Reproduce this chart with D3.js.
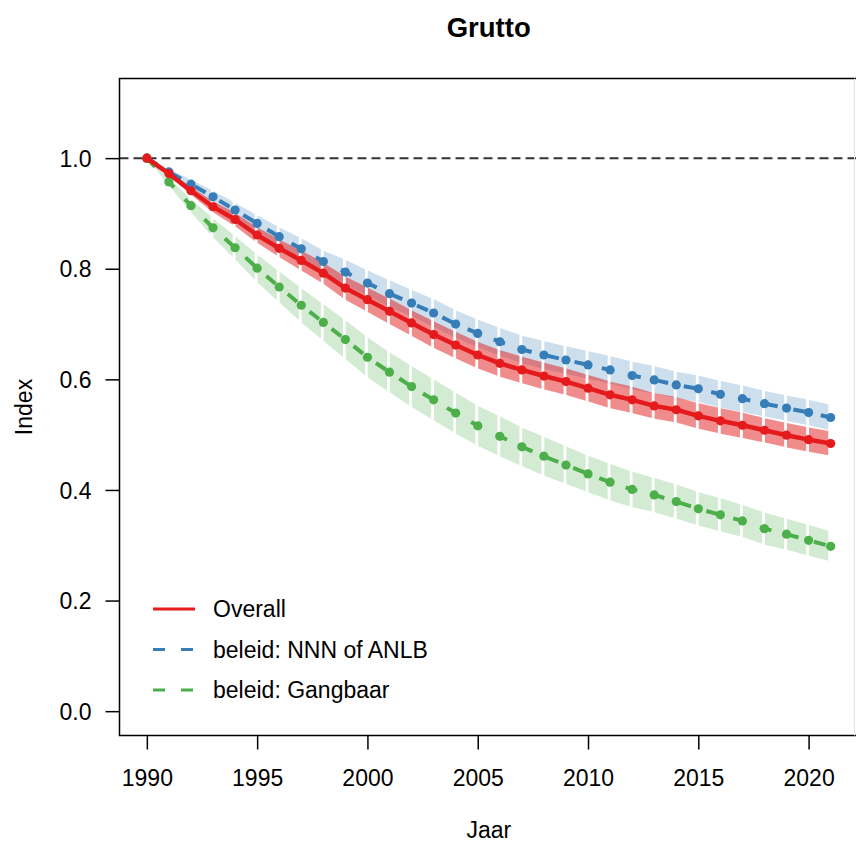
<!DOCTYPE html>
<html>
<head>
<meta charset="utf-8">
<script src="https://cdn.jsdelivr.net/npm/d3@7"></script>
<style>
  body { margin: 0; background: #fff; }
  svg { display: block; }
  text { font-family: "Liberation Sans", Arial, sans-serif; fill: #000; }
</style>
</head>
<body>
<svg id="chart" width="856" height="843"></svg>
<script>
// Yearly index of the black-tailed godwit (Grutto), 1990 = 1
const years = [1990, 1991, 1992, 1993, 1994, 1995, 1996, 1997, 1998, 1999,
               2000, 2001, 2002, 2003, 2004, 2005, 2006, 2007, 2008, 2009,
               2010, 2011, 2012, 2013, 2014, 2015, 2016, 2017, 2018, 2019,
               2020, 2021];

const overall = [1.000, 0.972, 0.941, 0.912, 0.889, 0.861, 0.837, 0.815, 0.792, 0.765,
                 0.744, 0.723, 0.702, 0.681, 0.662, 0.644, 0.629, 0.617, 0.606, 0.596,
                 0.584, 0.572, 0.563, 0.552, 0.545, 0.534, 0.525, 0.517, 0.508, 0.499,
                 0.491, 0.484];

const nnnAnlb = [1.000, 0.975, 0.953, 0.930, 0.906, 0.882, 0.858, 0.836, 0.813, 0.794,
                 0.774, 0.755, 0.738, 0.720, 0.700, 0.683, 0.668, 0.654, 0.644, 0.635,
                 0.626, 0.617, 0.607, 0.599, 0.590, 0.583, 0.573, 0.565, 0.556, 0.548,
                 0.540, 0.531];

const gangbaar = [1.000, 0.957, 0.914, 0.874, 0.838, 0.801, 0.767, 0.734, 0.703, 0.672,
                  0.640, 0.613, 0.587, 0.563, 0.539, 0.516, 0.497, 0.478, 0.461, 0.445,
                  0.429, 0.414, 0.401, 0.391, 0.379, 0.366, 0.355, 0.344, 0.330, 0.320,
                  0.309, 0.298];

// Half-width of the confidence band around each index value
const overallCI = [0.000, 0.004, 0.007, 0.010, 0.012, 0.014, 0.016, 0.018, 0.019, 0.021,
                   0.022, 0.023, 0.023, 0.024, 0.024, 0.024, 0.024, 0.024, 0.024, 0.024,
                   0.024, 0.024, 0.024, 0.023, 0.023, 0.023, 0.023, 0.023, 0.022, 0.022,
                   0.022, 0.022];

const nnnAnlbCI = [0.000, 0.005, 0.008, 0.011, 0.013, 0.015, 0.017, 0.019, 0.020, 0.022,
                   0.023, 0.024, 0.024, 0.025, 0.025, 0.025, 0.025, 0.025, 0.025, 0.025,
                   0.025, 0.025, 0.025, 0.025, 0.024, 0.024, 0.024, 0.024, 0.023, 0.023,
                   0.023, 0.023];

const gangbaarCI = [0.000, 0.006, 0.012, 0.017, 0.021, 0.025, 0.028, 0.031, 0.033, 0.035,
                    0.036, 0.036, 0.037, 0.037, 0.037, 0.036, 0.036, 0.035, 0.035, 0.034,
                    0.033, 0.033, 0.032, 0.031, 0.031, 0.030, 0.030, 0.029, 0.029, 0.028,
                    0.028, 0.027];

const xTicks = [1990, 1995, 2000, 2005, 2010, 2015, 2020];
const yTicks = [0.0, 0.2, 0.4, 0.6, 0.8, 1.0];

const series = [
  { label: "beleid: NNN of ANLB", values: nnnAnlb, ci: nnnAnlbCI, color: "#377EB8", band: 0.25, dash: "12,16" },
  { label: "beleid: Gangbaar",    values: gangbaar, ci: gangbaarCI, color: "#4DAF4A", band: 0.25, dash: "12,16" },
  { label: "Overall",             values: overall, ci: overallCI, color: "#E41A1C", band: 0.5,  dash: null }
];
const legendOrder = ["Overall", "beleid: NNN of ANLB", "beleid: Gangbaar"];

const svg = d3.select("#chart");
const box = { left: 119.5, top: 78.5, bottom: 735.5, right: 858 };

const x = d3.scaleLinear().domain([1988.76, 2022.24]).range([box.left, box.right]);
const y = d3.scaleLinear().domain([-0.044, 1.144]).range([box.bottom, box.top]);

const FS = 23;

// Clip everything data-related to the plotting region
svg.append("defs").append("clipPath").attr("id", "plotClip")
  .append("rect").attr("x", box.left).attr("y", box.top)
  .attr("width", box.right - box.left).attr("height", box.bottom - box.top);

const plot = svg.append("g").attr("clip-path", "url(#plotClip)");

// Reference line at index 1
plot.append("line")
  .attr("x1", box.left).attr("x2", box.right)
  .attr("y1", y(1)).attr("y2", y(1))
  .attr("stroke", "#333").attr("stroke-width", 2).attr("stroke-dasharray", "9,5");

// Confidence bands: one block per year interval
const lerp = (a, b, t) => a + (b - a) * t;
series.forEach(s => {
  const g = plot.append("g");
  const blocks = d3.range(years.length - 1);
  g.selectAll("path").data(blocks).join("path")
    .attr("d", i => {
      const xa = x(years[i]), xb = x(years[i + 1]);
      const x0 = xa + 0.4, x1 = xb - 2.4;
      const t0 = (x0 - xa) / (xb - xa), t1 = (x1 - xa) / (xb - xa);
      const hi0 = lerp(s.values[i] + s.ci[i], s.values[i + 1] + s.ci[i + 1], t0);
      const hi1 = lerp(s.values[i] + s.ci[i], s.values[i + 1] + s.ci[i + 1], t1);
      const lo0 = lerp(s.values[i] - s.ci[i], s.values[i + 1] - s.ci[i + 1], t0);
      const lo1 = lerp(s.values[i] - s.ci[i], s.values[i + 1] - s.ci[i + 1], t1);
      return `M${x0},${y(hi0)}L${x1},${y(hi1)}L${x1},${y(lo1)}L${x0},${y(lo0)}Z`;
    })
    .attr("fill", s.color).attr("fill-opacity", s.band);
});

// Index lines with a point per year
const line = d3.line().x((d, i) => x(years[i])).y(d => y(d));
series.forEach(s => {
  const g = plot.append("g");
  g.append("path").datum(s.values)
    .attr("d", line).attr("fill", "none")
    .attr("stroke", s.color).attr("stroke-width", s.dash ? 4 : 4.5)
    .attr("stroke-linejoin", "round")
    .attr("stroke-dasharray", s.dash);
  g.selectAll("circle").data(s.values).join("circle")
    .attr("cx", (d, i) => x(years[i])).attr("cy", d => y(d))
    .attr("r", 4.6).attr("fill", s.color);
});

// Plot frame
svg.append("path")
  .attr("d", `M${box.right},${box.top}H${box.left}V${box.bottom}H${box.right}`)
  .attr("fill", "none").attr("stroke", "#000").attr("stroke-width", 1.5);
svg.append("line").attr("x1", 854.5).attr("x2", 854.5).attr("y1", box.top).attr("y2", box.bottom)
  .attr("stroke", "#e4e4e4").attr("stroke-width", 1);

// Axes
const xAxis = svg.append("g").attr("transform", `translate(0,${box.bottom})`)
  .call(d3.axisBottom(x).tickValues(xTicks).tickFormat(d3.format("d")).tickSize(14).tickPadding(0));
xAxis.select(".domain").remove();
xAxis.selectAll(".tick line").attr("stroke", "#000").attr("stroke-width", 1.5);
xAxis.selectAll(".tick text").attr("font-size", FS).attr("y", 50.5).attr("dy", null)
  .style("font-family", "'Liberation Sans', Arial, sans-serif");

const yAxis = svg.append("g").attr("transform", `translate(${box.left},0)`)
  .call(d3.axisLeft(y).tickValues(yTicks).tickFormat(d3.format(".1f")).tickSize(14).tickPadding(14));
yAxis.select(".domain").remove();
yAxis.selectAll(".tick line").attr("stroke", "#000").attr("stroke-width", 1.5);
yAxis.selectAll(".tick text").attr("font-size", FS).attr("dy", "0.35em")
  .style("font-family", "'Liberation Sans', Arial, sans-serif");

// Titles
svg.append("text").attr("x", (box.left + box.right) / 2).attr("y", 37)
  .attr("text-anchor", "middle").attr("font-size", 27.5).attr("font-weight", "bold").text("Grutto");
svg.append("text").attr("x", (box.left + box.right) / 2).attr("y", 838)
  .attr("text-anchor", "middle").attr("font-size", FS).text("Jaar");
svg.append("text").attr("transform", `translate(32,${(box.top + box.bottom) / 2}) rotate(-90)`)
  .attr("text-anchor", "middle").attr("font-size", FS).text("Index");

// Legend
const legend = svg.append("g");
legendOrder.forEach((name, k) => {
  const s = series.find(d => d.label === name);
  const cy = 609 + k * 40.5;
  legend.append("line").attr("x1", 153).attr("x2", 195).attr("y1", cy).attr("y2", cy)
    .attr("stroke", s.color).attr("stroke-width", 3).attr("stroke-dasharray", s.dash);
  legend.append("text").attr("x", 213).attr("y", cy).attr("dy", "0.35em")
    .attr("font-size", FS).text(name);
});
</script>
</body>
</html>
